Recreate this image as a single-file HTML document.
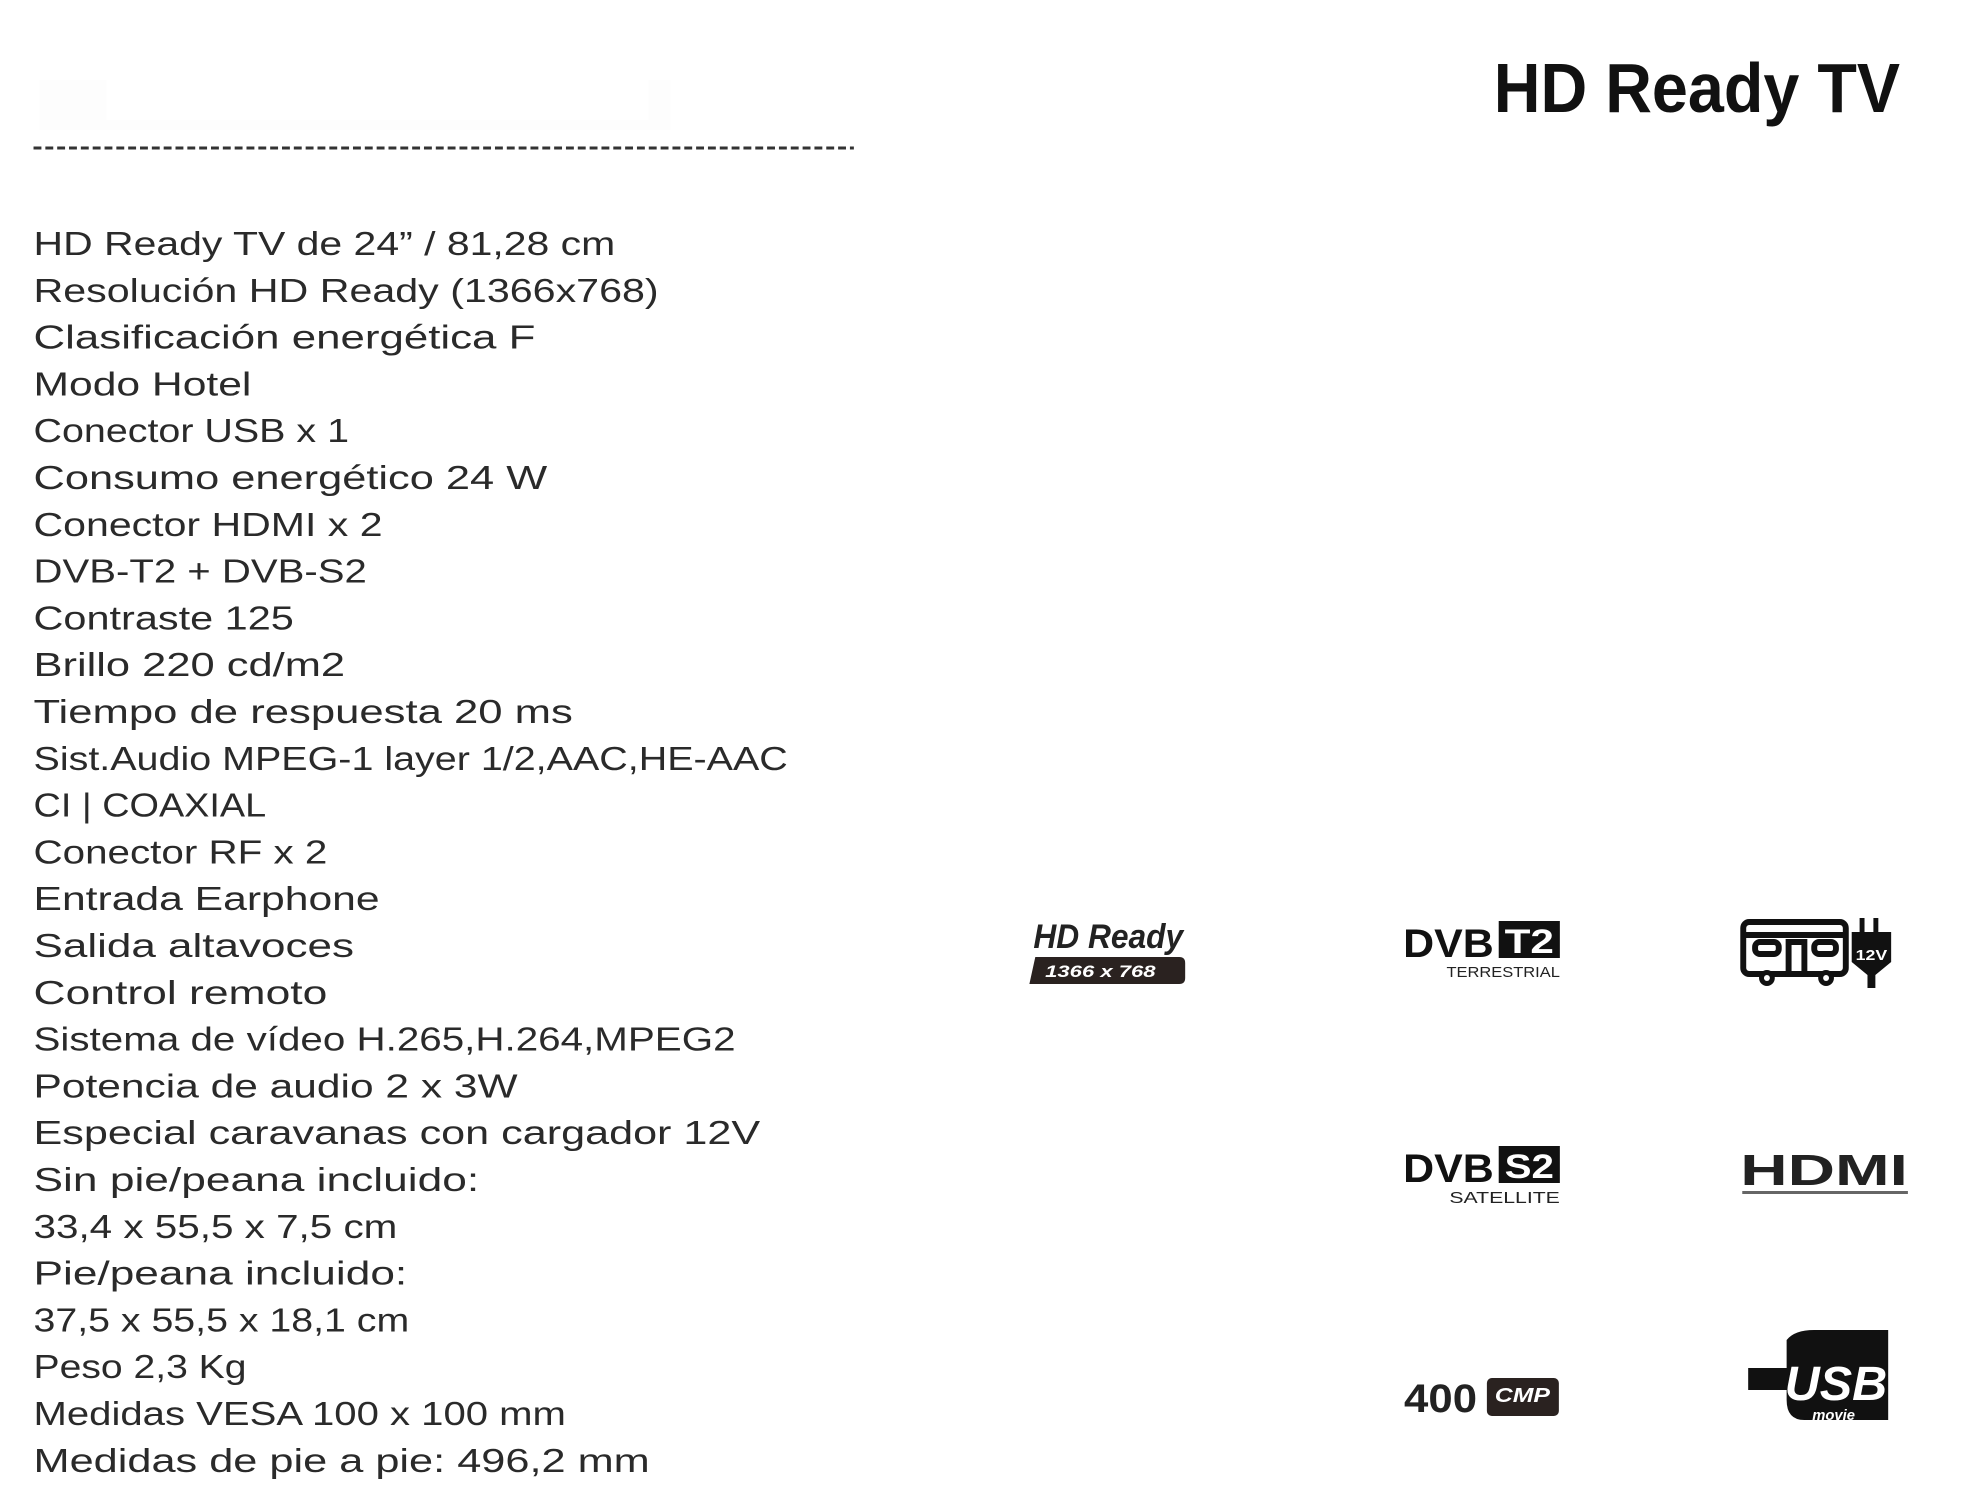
<!DOCTYPE html>
<html><head><meta charset="utf-8"><style>
html,body{margin:0;padding:0;background:#fff;}
svg{display:block;}
</style></head><body>
<svg width="1965" height="1500" viewBox="0 0 1965 1500" xmlns="http://www.w3.org/2000/svg" font-family="Liberation Sans, sans-serif">
<rect width="1965" height="1500" fill="#fff"/>
<g transform="scale(0.986 1)">
<!-- faint box -->
<rect x="40" y="80" width="640" height="50" fill="#fdfdfd"/>
<rect x="108" y="70" width="550" height="50" fill="#fff"/>
<!-- title -->
<text x="1515" y="112" font-size="70" font-weight="bold" fill="#111" textLength="412" lengthAdjust="spacingAndGlyphs">HD Ready TV</text>
<!-- dashed line -->
<line x1="34" y1="148" x2="866" y2="148" stroke="#333" stroke-width="3" stroke-dasharray="8,4"/>
<g font-size="33" fill="#2a2a2a">
<text x="34" y="255" textLength="590" lengthAdjust="spacingAndGlyphs">HD Ready TV de 24” / 81,28 cm</text>
<text x="34" y="301.8" textLength="634" lengthAdjust="spacingAndGlyphs">Resolución HD Ready (1366x768)</text>
<text x="34" y="348.6" textLength="509" lengthAdjust="spacingAndGlyphs">Clasificación energética F</text>
<text x="34" y="395.4" textLength="221" lengthAdjust="spacingAndGlyphs">Modo Hotel</text>
<text x="34" y="442.2" textLength="320" lengthAdjust="spacingAndGlyphs">Conector USB x 1</text>
<text x="34" y="489" textLength="521" lengthAdjust="spacingAndGlyphs">Consumo energético 24 W</text>
<text x="34" y="535.8" textLength="354" lengthAdjust="spacingAndGlyphs">Conector HDMI x 2</text>
<text x="34" y="582.6" textLength="338" lengthAdjust="spacingAndGlyphs">DVB-T2 + DVB-S2</text>
<text x="34" y="629.4" textLength="264" lengthAdjust="spacingAndGlyphs">Contraste 125</text>
<text x="34" y="676.2" textLength="316" lengthAdjust="spacingAndGlyphs">Brillo 220 cd/m2</text>
<text x="34" y="723" textLength="547" lengthAdjust="spacingAndGlyphs">Tiempo de respuesta 20 ms</text>
<text x="34" y="769.8" textLength="765" lengthAdjust="spacingAndGlyphs">Sist.Audio MPEG-1 layer 1/2,AAC,HE-AAC</text>
<text x="34" y="816.6" textLength="236" lengthAdjust="spacingAndGlyphs">CI | COAXIAL</text>
<text x="34" y="863.4" textLength="298" lengthAdjust="spacingAndGlyphs">Conector RF x 2</text>
<text x="34" y="910.2" textLength="351" lengthAdjust="spacingAndGlyphs">Entrada Earphone</text>
<text x="34" y="957" textLength="325" lengthAdjust="spacingAndGlyphs">Salida altavoces</text>
<text x="34" y="1003.8" textLength="298" lengthAdjust="spacingAndGlyphs">Control remoto</text>
<text x="34" y="1050.6" textLength="712" lengthAdjust="spacingAndGlyphs">Sistema de vídeo H.265,H.264,MPEG2</text>
<text x="34" y="1097.4" textLength="491" lengthAdjust="spacingAndGlyphs">Potencia de audio 2 x 3W</text>
<text x="34" y="1144.2" textLength="737" lengthAdjust="spacingAndGlyphs">Especial caravanas con cargador 12V</text>
<text x="34" y="1191" textLength="452" lengthAdjust="spacingAndGlyphs">Sin pie/peana incluido:</text>
<text x="34" y="1237.8" textLength="369" lengthAdjust="spacingAndGlyphs">33,4 x 55,5 x 7,5 cm</text>
<text x="34" y="1284.6" textLength="379" lengthAdjust="spacingAndGlyphs">Pie/peana incluido:</text>
<text x="34" y="1331.4" textLength="381" lengthAdjust="spacingAndGlyphs">37,5  x 55,5 x 18,1 cm</text>
<text x="34" y="1378.2" textLength="216" lengthAdjust="spacingAndGlyphs">Peso 2,3 Kg</text>
<text x="34" y="1425" textLength="540" lengthAdjust="spacingAndGlyphs">Medidas VESA 100 x 100 mm</text>
<text x="34" y="1471.8" textLength="625" lengthAdjust="spacingAndGlyphs">Medidas de pie a pie: 496,2 mm</text>
</g>
<!-- HD Ready logo -->
<text x="1048" y="948" font-size="34" font-weight="bold" font-style="italic" fill="#222" textLength="152" lengthAdjust="spacingAndGlyphs">HD Ready</text>
<path d="M1050 957 H1196 Q1202 957 1202 963 V978 Q1202 984 1196 984 H1044 Z" fill="#2a2220"/>
<text x="1060" y="977" font-size="17" font-weight="bold" font-style="italic" fill="#fff" textLength="112" lengthAdjust="spacingAndGlyphs">1366 x 768</text>
<!-- DVB T2 -->
<text x="1423" y="957" font-size="40" font-weight="bold" fill="#111" textLength="92" lengthAdjust="spacingAndGlyphs">DVB</text>
<rect x="1520" y="921" width="62" height="37" fill="#111"/>
<text x="1526" y="953" font-size="34" font-weight="bold" fill="#fff" textLength="50" lengthAdjust="spacingAndGlyphs">T2</text>
<text x="1467" y="977" font-size="15" fill="#222" textLength="115" lengthAdjust="spacingAndGlyphs">TERRESTRIAL</text>
<!-- DVB S2 -->
<text x="1423" y="1182" font-size="40" font-weight="bold" fill="#111" textLength="92" lengthAdjust="spacingAndGlyphs">DVB</text>
<rect x="1520" y="1146" width="62" height="37" fill="#111"/>
<text x="1526" y="1178" font-size="34" font-weight="bold" fill="#fff" textLength="50" lengthAdjust="spacingAndGlyphs">S2</text>
<text x="1470" y="1203" font-size="16" fill="#222" textLength="112" lengthAdjust="spacingAndGlyphs">SATELLITE</text>
<!-- caravan -->
<g fill="none" stroke="#111" stroke-width="6">
<rect x="1768" y="922" width="104" height="52" rx="6"/>
<line x1="1768" y1="935" x2="1872" y2="935"/>
<rect x="1780" y="942" width="24" height="12" rx="5"/>
<rect x="1840" y="942" width="22" height="12" rx="5"/>
<rect x="1814" y="942" width="16" height="32"/>
</g>
<circle cx="1792" cy="978" r="8" fill="#111"/><circle cx="1852" cy="978" r="8" fill="#111"/>
<circle cx="1792" cy="978" r="3" fill="#fff"/><circle cx="1852" cy="978" r="3" fill="#fff"/>
<rect x="1886" y="918" width="5" height="14" fill="#111"/><rect x="1900" y="918" width="5" height="14" fill="#111"/>
<path d="M1878 932 H1918 V962 L1902 975 V988 H1894 V975 L1878 962 Z" fill="#111"/>
<text x="1882" y="960" font-size="15" font-weight="bold" fill="#fff" textLength="32" lengthAdjust="spacingAndGlyphs">12V</text>
<!-- HDMI -->
<text x="1765" y="1185" font-size="44" font-weight="bold" fill="#222" textLength="170" lengthAdjust="spacingAndGlyphs">HDMI</text>
<rect x="1767" y="1191" width="168" height="3" fill="#666"/>
<!-- 400 CMP -->
<text x="1424" y="1412" font-size="40" font-weight="bold" fill="#222" textLength="74" lengthAdjust="spacingAndGlyphs">400</text>
<rect x="1508" y="1378" width="73" height="38" rx="5" fill="#2a2220"/>
<text x="1516" y="1402" font-size="20" font-weight="bold" font-style="italic" fill="#fff" textLength="56" lengthAdjust="spacingAndGlyphs">CMP</text>
<!-- USB -->
<path d="M1812 1340 Q1820 1330 1840 1330 H1915 V1420 H1830 Q1812 1420 1812 1400 V1390 H1773 V1368 H1812 Z" fill="#111"/>
<text x="1810" y="1400" font-size="48" font-weight="bold" font-style="italic" fill="#fff" textLength="104" lengthAdjust="spacingAndGlyphs">USB</text>
<text x="1838" y="1420" font-size="15" font-weight="bold" font-style="italic" fill="#fff">movie</text>
</g>
</svg>
</body></html>
